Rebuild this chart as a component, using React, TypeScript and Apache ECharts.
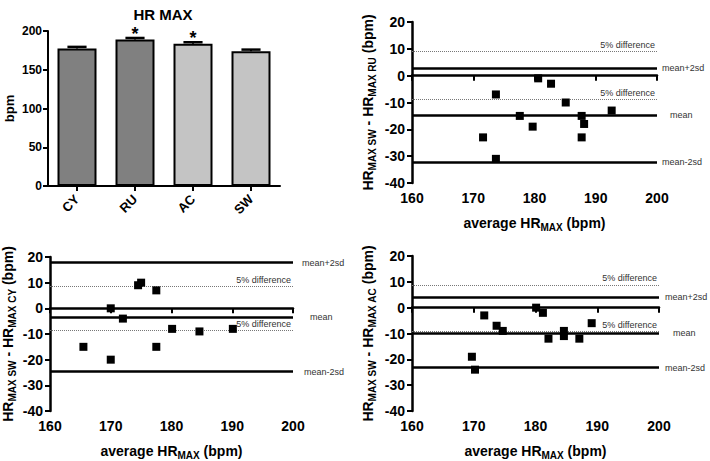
import React, { useEffect, useRef } from "react";
import * as echarts from "echarts";

const FONT = "'Liberation Sans', Arial, Helvetica, sans-serif";

// Bar chart data
const categories = ["CY", "RU", "AC", "SW"];
const hrMax = [177.5, 189, 183.5, 174];
const hrMaxErr = [2, 2, 2, 2];
const sig = ["", "*", "*", ""];
const barColors = ["#808080", "#808080", "#c4c4c4", "#c4c4c4"];
const barTicks = [0, 50, 100, 150, 200];

// Bland-Altman: SW - RU
const ruAvg = [171.6, 173.7, 173.7, 177.6, 179.7, 180.6, 182.7, 185.1, 187.7, 187.7, 188.1, 192.6];
const ruDiff = [-23, -7, -31, -15, -19, -1, -3, -10, -15, -23, -18, -13];
const ruLimits = [2.9, -14.8, -32.3];
const ruFive = [9.1, -8.8];

// Bland-Altman: SW - CY
const cyAvg = [165.5, 170, 170, 172, 174.5, 175, 177.5, 177.5, 180.1, 184.6, 190.1];
const cyDiff = [-15, 0, -20, -4, 9, 10, 7, -15, -8, -9, -8];
const cyLimits = [17.8, -3.5, -24.7];
const cyFive = [8.7, -8.6];

// Bland-Altman: SW - AC
const acAvg = [169.7, 170.2, 171.7, 173.7, 174.7, 180.1, 181.2, 182.1, 184.6, 184.6, 187.1, 189.1];
const acDiff = [-19, -24, -3, -7, -9, 0, -2, -12, -9, -11, -12, -6];
const acLimits = [4.1, -9.9, -23.2];
const acFive = [8.8, -9.2];

const limitLabels = ["mean+2sd", "mean", "mean-2sd"];
const fiveLabel = "5% difference";

export default function App() {
  const ref = useRef<HTMLDivElement>(null);

  useEffect(() => {
    if (!ref.current) return;
    const chart = echarts.init(ref.current, null, { renderer: "svg" });

    const grids = [
      { left: 48, top: 31, width: 232, height: 155 },
      { left: 412, top: 22, width: 245, height: 161 },
      { left: 48, top: 257, width: 245, height: 163 },
      { left: 412, top: 256, width: 247, height: 164 },
    ];

    const richName = {
      b: { fontFamily: FONT, fontSize: 14, fontWeight: "bold", color: "#000", lineHeight: 18 },
      s: { fontFamily: FONT, fontSize: 10, fontWeight: "bold", color: "#000", verticalAlign: "bottom" },
    };

    const baXAxis = (gi: number) => ({
      type: "value",
      gridIndex: gi,
      min: 160,
      max: 200,
      interval: 10,
      name: "{b|average HR}{s|MAX}{b| (bpm)}",
      nameLocation: "middle",
      nameGap: 31,
      nameTextStyle: { rich: richName },
      axisLine: { show: true, lineStyle: { color: "#000", width: 2.5 } },
      axisTick: { show: true, length: 5, lineStyle: { color: "#000", width: 2 } },
      axisLabel: { color: "#000", fontFamily: FONT, fontWeight: "bold", fontSize: 14, margin: 8 },
      splitLine: { show: false },
    });

    const baYAxis = (gi: number, sub: string, gap: number) => ({
      type: "value",
      gridIndex: gi,
      min: -40,
      max: 20,
      interval: 10,
      name: `{b|HR}{s|MAX SW}{b| - HR}{s|MAX ${sub}}{b| (bpm)}`,
      nameLocation: "middle",
      nameRotate: 90,
      nameGap: gap,
      nameTextStyle: { rich: richName },
      axisLine: { show: true, lineStyle: { color: "#000", width: 2.5 } },
      axisTick: { show: true, length: 5, lineStyle: { color: "#000", width: 2 } },
      axisLabel: { color: "#000", fontFamily: FONT, fontWeight: "bold", fontSize: 14, margin: 7 },
      splitLine: { show: false },
    });

    const labelStyle = { color: "#333", fontFamily: FONT, fontSize: 9 };

    const baSeries = (
      gi: number,
      avg: number[],
      diff: number[],
      limits: number[],
      five: number[],
      dists: number[]
    ) => ({
      type: "scatter",
      xAxisIndex: gi,
      yAxisIndex: gi,
      symbol: "rect",
      symbolSize: 8,
      itemStyle: { color: "#000", opacity: 1 },
      data: avg.map((a, i) => [a, diff[i]]),
      z: 5,
      markLine: {
        silent: true,
        symbol: ["none", "none"],
        animation: false,
        data: [
          ...five.map((v) => ({
            yAxis: v,
            lineStyle: { color: "#777", width: 1, type: "dotted" },
            label: { show: true, position: "insideEndTop", formatter: fiveLabel, distance: 2, ...labelStyle },
          })),
          ...limits.map((v, i) => ({
            yAxis: v,
            lineStyle: { color: "#000", width: 2.5, type: "solid" },
            label: { show: true, position: "end", formatter: limitLabels[i], distance: dists[i], ...labelStyle },
          })),
        ],
      },
    });

    const option: any = {
      animation: false,
      backgroundColor: "#fff",
      title: {
        text: "HR MAX",
        left: 158,
        top: 2,
        textAlign: "center",
        textStyle: { fontFamily: FONT, fontSize: 15, fontWeight: "bold", color: "#000" },
      },
      grid: grids,
      xAxis: [
        {
          type: "category",
          gridIndex: 0,
          data: categories,
          axisLine: { show: true, lineStyle: { color: "#000", width: 2 } },
          axisTick: { show: true, alignWithLabel: true, length: 5, lineStyle: { color: "#000", width: 2 } },
          axisLabel: { rotate: 45, color: "#000", fontFamily: FONT, fontWeight: "bold", fontSize: 13, margin: 11 },
        },
        baXAxis(1),
        baXAxis(2),
        baXAxis(3),
      ],
      yAxis: [
        {
          type: "value",
          gridIndex: 0,
          min: barTicks[0],
          max: barTicks[barTicks.length - 1],
          interval: 50,
          name: "bpm",
          nameLocation: "middle",
          nameRotate: 90,
          nameGap: 32,
          nameTextStyle: { fontFamily: FONT, fontSize: 13, fontWeight: "bold", color: "#000" },
          axisLine: { show: true, lineStyle: { color: "#000", width: 2 } },
          axisTick: { show: true, length: 5, lineStyle: { color: "#000", width: 2 } },
          axisLabel: { color: "#000", fontFamily: FONT, fontWeight: "bold", fontSize: 12, margin: 6 },
          splitLine: { show: false },
        },
        baYAxis(1, "RU", 35),
        baYAxis(2, "CY", 33),
        baYAxis(3, "AC", 35),
      ],
      series: [
        {
          type: "bar",
          xAxisIndex: 0,
          yAxisIndex: 0,
          barWidth: 39,
          data: hrMax.map((v, i) => ({
            value: v,
            itemStyle: { color: barColors[i], borderColor: "#000", borderWidth: 2 },
          })),
        },
        {
          type: "custom",
          xAxisIndex: 0,
          yAxisIndex: 0,
          z: 10,
          data: hrMax.map((v, i) => [i, v, hrMaxErr[i]]),
          renderItem: (params: any, api: any) => {
            const idx = api.value(0);
            const v = api.value(1);
            const e = api.value(2);
            const base = api.coord([idx, v]);
            const top = api.coord([idx, v + e]);
            const bw = api.size([1, 0])[0];
            const half = bw * 0.165;
            const children: any[] = [
              { type: "line", shape: { x1: top[0], y1: base[1], x2: top[0], y2: top[1] }, style: { stroke: "#000", lineWidth: 2 } },
              { type: "line", shape: { x1: top[0] - half, y1: top[1], x2: top[0] + half, y2: top[1] }, style: { stroke: "#000", lineWidth: 2.5 } },
            ];
            const s = sig[params.dataIndex];
            if (s) {
              children.push({
                type: "text",
                x: top[0],
                y: top[1] - 4,
                style: { text: s, fontFamily: FONT, fontSize: 18, fontWeight: "bold", fill: "#000", align: "center", verticalAlign: "middle" },
              });
            }
            return { type: "group", children };
          },
        },
        baSeries(1, ruAvg, ruDiff, ruLimits, ruFive, [5, 13, 5]),
        baSeries(2, cyAvg, cyDiff, cyLimits, cyFive, [9, 17, 11]),
        baSeries(3, acAvg, acDiff, acLimits, acFive, [6, 14, 6]),
      ],
    };

    chart.setOption(option);
    return () => chart.dispose();
  }, []);

  return <div ref={ref} style={{ position: "fixed", left: 0, top: 0, width: 710, height: 461 }} />;
}
